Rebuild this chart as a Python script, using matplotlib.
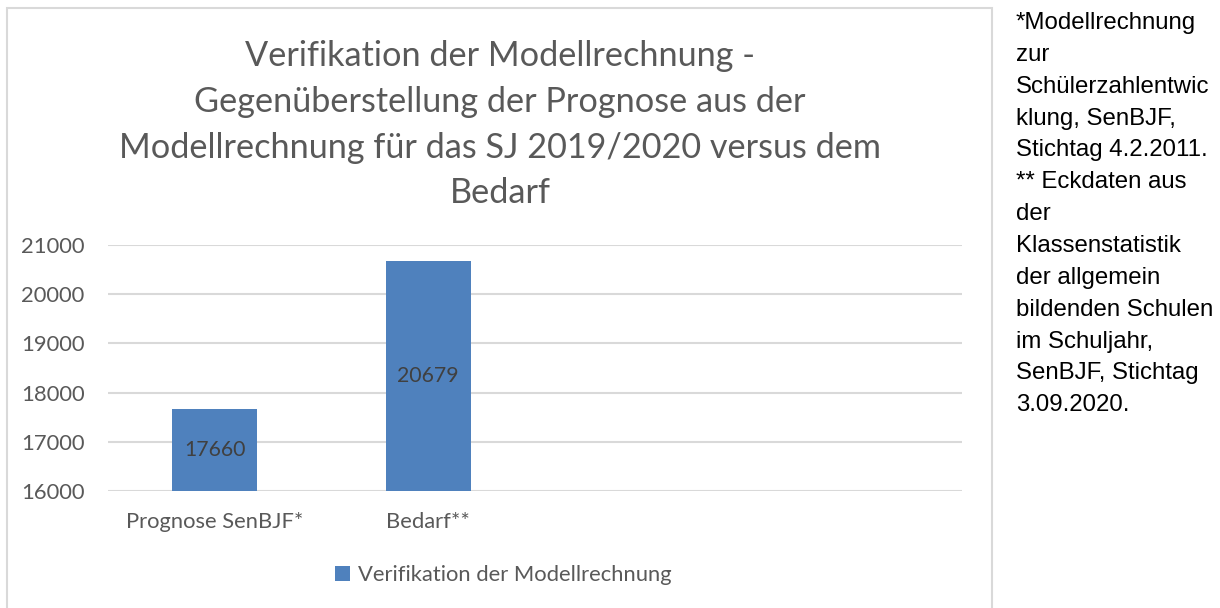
import matplotlib.pyplot as plt
from matplotlib.patches import Rectangle

# data
categories = ['Prognose SenBJF*', 'Bedarf**', '', '']
values = [17660, 20679, None, None]
series_name = 'Verifikation der Modellrechnung'
yticks = [16000, 17000, 18000, 19000, 20000, 21000]
title = ('Verifikation der Modellrechnung -\n'
         'Gegenüberstellung der Prognose aus der\n'
         'Modellrechnung für das SJ 2019/2020 versus dem\n'
         'Bedarf')
note = ('*Modellrechnung\nzur\nSchülerzahlentwic\nklung, SenBJF,\n'
        'Stichtag 4.2.2011.\n** Eckdaten aus\nder\nKlassenstatistik\n'
        'der allgemein\nbildenden Schulen\nim Schuljahr,\n'
        'SenBJF, Stichtag\n3.09.2020.')

plt.rcParams['font.family'] = ['Lato', 'DejaVu Sans']
grey = '#595959'
bar_color = '#4F81BD'

fig = plt.figure(figsize=(12.2, 6.08), dpi=100)
W, H = 1220, 608

# chart frame
fig.patches.append(Rectangle((7 / W, -0.01), (992 - 7) / W, 1 - 8 / H + 0.01,
                             transform=fig.transFigure, fill=False,
                             edgecolor='#d9d9d9', linewidth=1.5))

ax = fig.add_axes([108 / W, 1 - 491 / H, (962 - 108) / W, (491 - 245) / H])
xs = [i for i, v in enumerate(values) if v is not None]
vs = [v for v in values if v is not None]
bars = ax.bar(xs, vs, width=0.4, color=bar_color, label=series_name, zorder=3)
for b, v in zip(bars, vs):
    ax.text(b.get_x() + b.get_width() / 2, (16000 + v) / 2, str(v),
            ha='center', va='center', fontsize=15.3, color='#404040', zorder=4)

ax.set_xlim(-0.5, len(categories) - 0.5)
ax.set_ylim(16000, 21000)
ax.set_yticks(yticks)
ax.set_xticks(range(len(categories)))
ax.set_xticklabels(categories)
ax.tick_params(axis='both', length=0, labelsize=15.8, labelcolor=grey)
ax.tick_params(axis='y', pad=17)
ax.tick_params(axis='x', pad=15)
ax.grid(axis='y', color='#d9d9d9', linewidth=1.5, zorder=0)
for s in ax.spines.values():
    s.set_visible(False)

fig.text(500 / W, 1 - 40 / H, title, ha='center', va='top', fontsize=24.7,
         color=grey, linespacing=1.53)

leg = fig.legend(loc='center', bbox_to_anchor=(503 / W, 1 - 575 / H),
                 frameon=False, fontsize=15.8, handlelength=0.7,
                 handleheight=0.7, handletextpad=0.35)
for t in leg.get_texts():
    t.set_color(grey)

fig.text(1016 / W, 1 - 12 / H, note, ha='left', va='top', fontsize=17.3,
         family=['Liberation Sans', 'DejaVu Sans'], color='black',
         linespacing=1.58)

fig.savefig('out.png', dpi=100)
